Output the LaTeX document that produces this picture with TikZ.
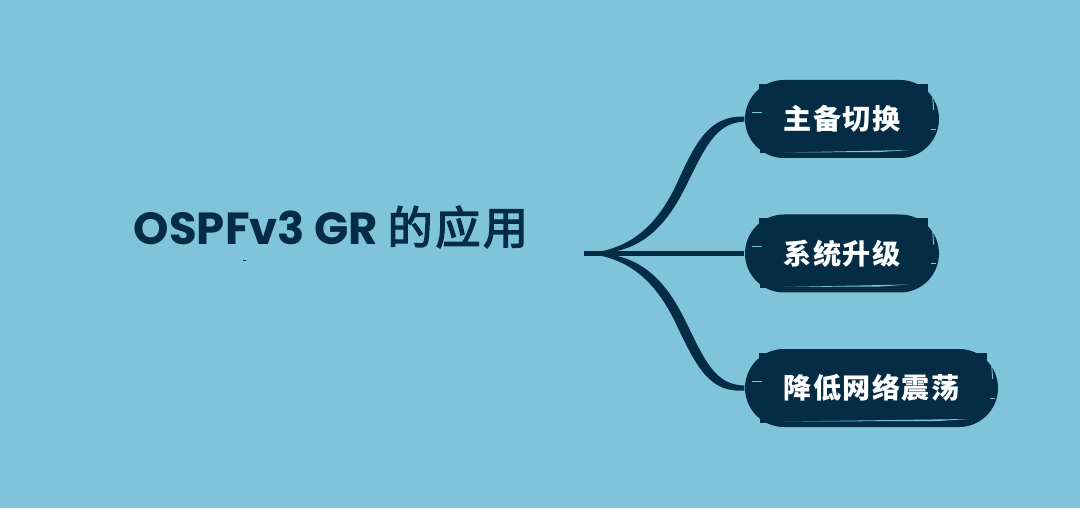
\documentclass[tikz,border=0pt]{standalone}
\usepackage{fontspec}
\setmainfont{Poppins}
\newfontfamily\cjk[FakeBold=3,LetterSpace=6]{Noto Sans CJK SC}
\newfontfamily\cjklabel[LetterSpace=5]{Noto Sans CJK SC}
\usetikzlibrary{positioning}
\usetikzlibrary{shapes}
\definecolor{bgblue}{HTML}{80C4D9}
\definecolor{inkblue}{HTML}{052C45}
\tikzset{itembox/.style={rounded rectangle,fill=inkblue,text=white,minimum height=0.78cm,inner sep=0pt,font=\fontsize{8}{10}\selectfont\cjklabel\bfseries}}
\tikzset{titletext/.style={text=inkblue,inner sep=0pt,font=\fontsize{12.8}{16}\selectfont\bfseries}}
\tikzset{brush/.style={bgblue,line width=0.25pt}}
\begin{document}
\begin{tikzpicture}
\fill[bgblue] (0,0) rectangle (10.8,5.08);
\useasboundingbox (0,0) rectangle (10.8,5.08);
\node[titletext] (title) at (3.31,2.81) {OSPFv3 GR {\mdseries\cjk 的应用}};
\fill[inkblue] (2.43,2.47) rectangle (2.46,2.475);
\coordinate (root) at (5.84,2.545);
\node[itembox,minimum width=1.94cm] (a) at (8.42,3.89) {主备切换};
\node[itembox,minimum width=1.94cm] (b) at (8.42,2.545) {系统升级};
\node[itembox,minimum width=2.53cm] (c) at (8.715,1.20) {降低网络震荡};
% links
\fill[inkblue] (root) .. controls (6.25,2.57) and (6.55,2.77) .. (6.77,3.25) .. controls (6.97,3.69) and (7.1,3.92) .. ([yshift=0.025cm]a.west) -- ([yshift=-0.025cm]a.west) .. controls (7.15,3.85) and (7.05,3.6) .. (6.85,3.2) .. controls (6.6,2.7) and (6.3,2.52) .. (root) -- cycle;
\fill[inkblue] (root) .. controls (6.3,2.57) and (6.6,2.39) .. (6.85,1.88) .. controls (7.05,1.47) and (7.15,1.23) .. ([yshift=0.025cm]c.west) -- ([yshift=-0.025cm]c.west) .. controls (7.1,1.15) and (6.97,1.4) .. (6.77,1.82) .. controls (6.55,2.3) and (6.25,2.52) .. (root) -- cycle;
\draw[inkblue,line width=0.05cm] (root) -- (b);
% rough edges
\foreach \n in {a,b,c} {
\fill[inkblue] ([shift={(0.15,0.35)}]\n.west) rectangle ([shift={(0.4,0.1)}]\n.west);
\fill[inkblue] ([shift={(0.16,-0.345)}]\n.west) rectangle ([shift={(0.4,-0.1)}]\n.west);
\fill[inkblue] ([shift={(-0.12,0.35)}]\n.east) rectangle ([shift={(-0.4,0.1)}]\n.east);
\draw[brush] ([shift={(0.08,0.07)}]\n.west) -- ([shift={(0.18,0.07)}]\n.west);
\fill[bgblue] ([shift={(0.4,-0.335)}]\n.west) -- ([shift={(-0.3,-0.31)}]\n.east) -- ([shift={(-0.6,-0.33)}]\n.east) -- cycle;
\draw[brush] ([shift={(-0.07,0.22)}]\n.east) -- ([shift={(-0.06,0.09)}]\n.east);
\draw[brush] ([shift={(-0.09,-0.1)}]\n.east) -- ([shift={(-0.04,-0.1)}]\n.east);
}
\end{tikzpicture}
\end{document}
